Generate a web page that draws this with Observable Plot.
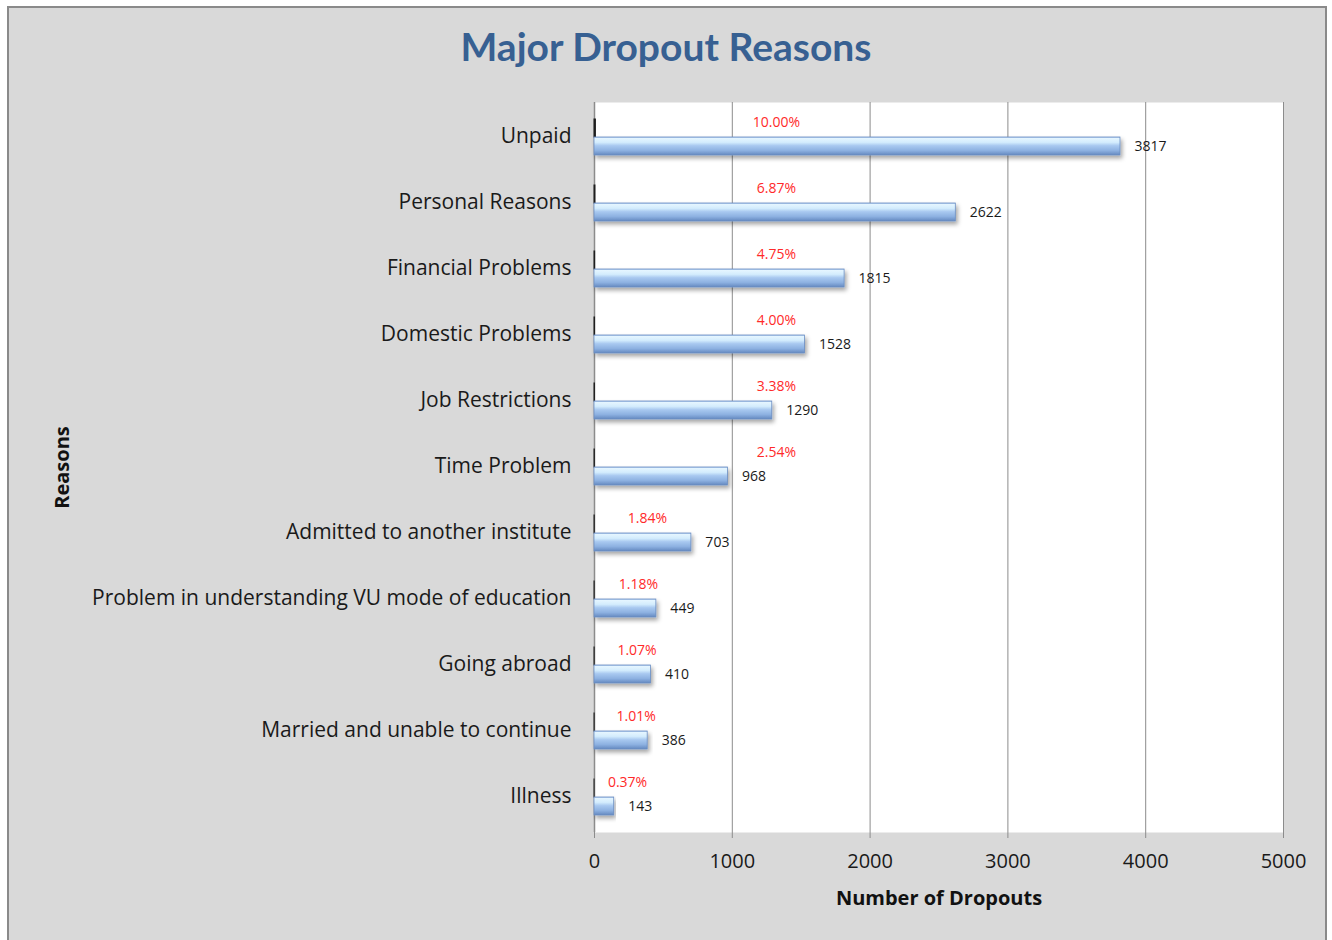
<!DOCTYPE html>
<html>
<head>
<meta charset="utf-8">
<script src="https://cdn.jsdelivr.net/npm/d3@7"></script>
<script src="https://cdn.jsdelivr.net/npm/@observablehq/plot@0.6"></script>
<style>
  html, body { margin: 0; padding: 0; background: #ffffff; }
  #page { position: relative; width: 1332px; height: 940px; overflow: hidden; font-family: Lato, "Open Sans", sans-serif; }
  #frame { position: absolute; left: 7px; top: 6px; width: 1320px; height: 950px; background: #d9d9d9; border: 2px solid #8a8a8a; box-sizing: border-box; }
  #title { position: absolute; left: 0; top: 23px; width: 1332px; text-align: center; font-size: 39px; font-weight: bold; color: #376092; }
  #chart { position: absolute; left: 0; top: 80px; }
</style>
</head>
<body>
<div id="page">
  <div id="frame"></div>
  <div id="title">Major Dropout Reasons</div>
  <div id="chart"></div>
</div>
<script>
const reasons = [
  "Unpaid",
  "Personal Reasons",
  "Financial Problems",
  "Domestic Problems",
  "Job Restrictions",
  "Time Problem",
  "Admitted to another institute",
  "Problem in understanding VU mode of education",
  "Going abroad",
  "Married and unable to continue",
  "Illness"
];
const dropouts = [3817, 2622, 1815, 1528, 1290, 968, 703, 449, 410, 386, 143];
const percents = [10.00, 6.87, 4.75, 4.00, 3.38, 2.54, 1.84, 1.18, 1.07, 1.01, 0.37];
const xTicks = [0, 1000, 2000, 3000, 4000, 5000];

const rows = reasons.map((r, i) => ({reason: r, count: dropouts[i], pct: percents[i]}));
// percent labels were hand-placed in the original; approximate their anchor
const pctAnchor = d => d.count >= 900 ? 1320 : 203 + d.count * 0.258;

const defs = () => {
  const g = d3.create("svg:defs");
  const lg = g.append("linearGradient").attr("id", "barGrad").attr("x1", 0).attr("y1", 0).attr("x2", 0).attr("y2", 1);
  [["0%", "#9dbde8"], ["8%", "#e4f5ff"], ["30%", "#d3ecfd"], ["48%", "#a9c9f0"], ["75%", "#8db1e1"], ["100%", "#6489c0"]]
    .forEach(([o, c]) => lg.append("stop").attr("offset", o).attr("stop-color", c));
  const f = g.append("filter").attr("id", "shadow").attr("x", "-5%").attr("y", "-30%").attr("width", "115%").attr("height", "190%");
  f.append("feDropShadow").attr("dx", 2).attr("dy", 3).attr("stdDeviation", 2).attr("flood-color", "#000").attr("flood-opacity", 0.35);
  return g.node();
};

const chart = Plot.plot({
  width: 1332,
  height: 860,
  marginLeft: 594,
  marginRight: 49,
  marginTop: 22,
  marginBottom: 108,
  style: {background: "transparent", fontFamily: "'Open Sans', Lato, sans-serif", color: "#1a1a1a"},
  x: {domain: [0, 5000], ticks: xTicks},
  y: {type: "band", domain: reasons, padding: 0},
  marks: [
    defs,
    Plot.frame({fill: "white", stroke: null}),
    Plot.ruleX(xTicks.slice(1), {stroke: "#8c8c8c", strokeWidth: 1}),
    Plot.ruleX([0], {stroke: "#8c8c8c", strokeWidth: 1.5}),
    Plot.barX(rows, {y: "reason", x1: 0, x2: d => d.pct, fill: "#1e1e1e", stroke: "#1e1e1e", strokeWidth: 1, insetTop: 15, insetBottom: 33}),
    Plot.barX(rows, {y: "reason", x1: 0, x2: "count", fill: "url(#barGrad)", stroke: "#6b8ec2", strokeWidth: 0.8, insetTop: 33, insetBottom: 15}),
    Plot.text(rows, {y: "reason", x: "count", text: d => String(d.count), dx: 14, dy: 9, textAnchor: "start", fontSize: 14, fill: "#1a1a1a"}),
    Plot.text(rows, {y: "reason", x: pctAnchor, text: d => d.pct.toFixed(2) + "%", dy: -15, textAnchor: "middle", fontSize: 14, fill: "#ff2a2a"}),
    Plot.axisX({ticks: xTicks, tickSize: 6, tickPadding: 15, fontSize: 20, tickFormat: d => String(d), stroke: "#8c8c8c", label: null}),
    Plot.axisY({tickSize: 0, tickPadding: 23, fontSize: 21, dy: -1.5, label: null}),
    Plot.text(["Number of Dropouts"], {frameAnchor: "bottom", dy: 72, fontSize: 20, fontWeight: "bold", fill: "#111"}),
    Plot.text(["Reasons"], {frameAnchor: "left", textAnchor: "middle", dx: -532, rotate: -90, fontSize: 20, fontWeight: "bold", fill: "#111"})
  ]
});
// add drop shadow to the value bars
d3.select(chart).selectAll("rect").filter(function() { return this.getAttribute("fill") === "url(#barGrad)" || (this.parentNode && this.parentNode.getAttribute("fill") === "url(#barGrad)"); })
  .attr("filter", "url(#shadow)");
document.getElementById("chart").appendChild(chart);
</script>
</body>
</html>
